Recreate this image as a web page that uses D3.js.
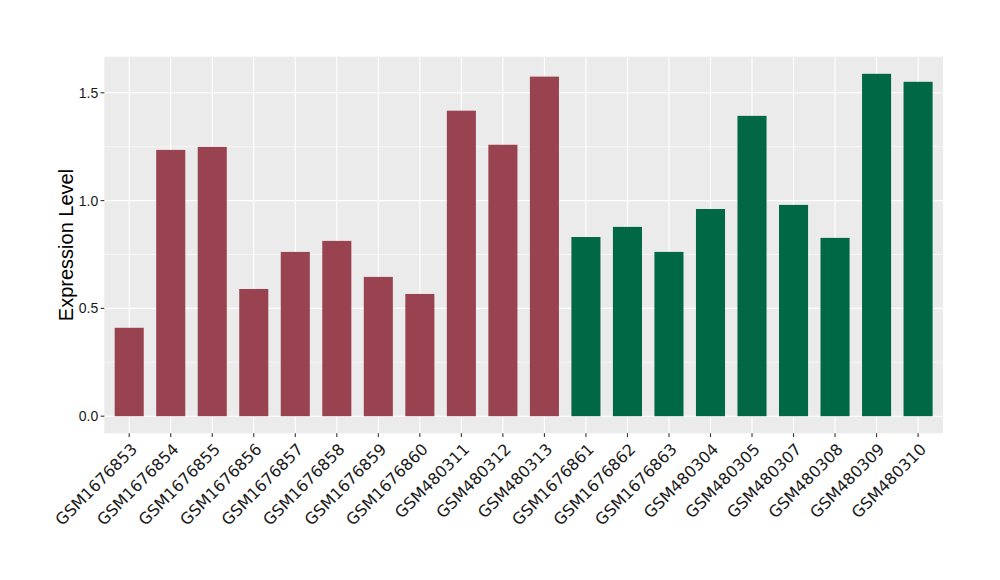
<!DOCTYPE html>
<html><head><meta charset="utf-8">
<script src="https://cdn.jsdelivr.net/npm/d3@7"></script>
<style>body{margin:0;background:#fff}</style>
</head><body>
<script>
const categories = ["GSM1676853","GSM1676854","GSM1676855","GSM1676856","GSM1676857","GSM1676858","GSM1676859","GSM1676860","GSM480311","GSM480312","GSM480313","GSM1676861","GSM1676862","GSM1676863","GSM480304","GSM480305","GSM480307","GSM480308","GSM480309","GSM480310"];
const values = [0.410,1.235,1.249,0.590,0.762,0.813,0.646,0.567,1.417,1.259,1.575,0.831,0.878,0.762,0.961,1.393,0.980,0.827,1.588,1.551];
const groups = ["A","A","A","A","A","A","A","A","A","A","A","B","B","B","B","B","B","B","B","B"];
const groupColors = {A:"#9a4350", B:"#006845"};
const yTicks = [0.0,0.5,1.0,1.5];
const yMinor = [0.25,0.75,1.25];

const W=1000,H=580;
const L=104.3,R=943,T=56.7,B=433.3;
const svg=d3.select("body").append("svg").attr("width",W).attr("height",H);
const maxV=d3.max(values);
const y=d3.scaleLinear().domain([-0.05*maxV,1.05*maxV]).range([B,T]);
// ggplot discrete: 0.6 unit expansion each side
const x=d3.scalePoint().domain(categories).range([L,R]).padding(0.6);
const unit=x.step();
const cx=c=>x(c);

svg.append("rect").attr("x",L).attr("y",T).attr("width",R-L).attr("height",B-T).attr("fill","#ebebeb");
const g=svg.append("g");
g.selectAll(".ymin").data(yMinor).join("line").attr("x1",L).attr("x2",R).attr("y1",d=>y(d)).attr("y2",d=>y(d)).attr("stroke","#fff").attr("stroke-width",0.55);
g.selectAll(".ymaj").data(yTicks).join("line").attr("x1",L).attr("x2",R).attr("y1",d=>y(d)).attr("y2",d=>y(d)).attr("stroke","#fff").attr("stroke-width",1.1);
g.selectAll(".xmaj").data(categories).join("line").attr("x1",d=>cx(d)).attr("x2",d=>cx(d)).attr("y1",T).attr("y2",B).attr("stroke","#fff").attr("stroke-width",1.1);

svg.append("g").selectAll("rect").data(categories).join("rect")
  .attr("x",d=>cx(d)-unit*0.35).attr("width",unit*0.7)
  .attr("y",(d,i)=>y(values[i])).attr("height",(d,i)=>y(0)-y(values[i]))
  .attr("fill",(d,i)=>groupColors[groups[i]]);

// y axis
const ya=svg.append("g");
ya.selectAll("line").data(yTicks).join("line").attr("x1",L-3.7).attr("x2",L).attr("y1",d=>y(d)).attr("y2",d=>y(d)).attr("stroke","#333").attr("stroke-width",1.1);
ya.selectAll("text").data(yTicks).join("text").attr("x",L-6).attr("y",d=>y(d)).attr("dy","0.36em")
  .attr("text-anchor","end").attr("font-family","Liberation Sans, Arial, sans-serif").attr("font-size",14).attr("fill","#1a1a1a")
  .text(d=>d3.format(".1f")(d));
// x axis
const xa=svg.append("g");
xa.selectAll("line").data(categories).join("line").attr("x1",d=>cx(d)).attr("x2",d=>cx(d)).attr("y1",B).attr("y2",B+3.7).attr("stroke","#333").attr("stroke-width",1.1);
xa.selectAll("text").data(categories).join("text")
  .attr("transform",d=>`translate(${cx(d)+9},${B+17}) rotate(-45)`)
  .attr("text-anchor","end").attr("font-family","DejaVu Sans, sans-serif").attr("font-size",16).attr("fill","#1a1a1a")
  .text(d=>d);

svg.append("text").attr("transform",`translate(${73},${(T+B)/2}) rotate(-90)`).attr("text-anchor","middle")
  .attr("font-family","Liberation Sans, Arial, sans-serif").attr("font-size",20).attr("fill","#000").text("Expression Level");
</script>
</body></html>
